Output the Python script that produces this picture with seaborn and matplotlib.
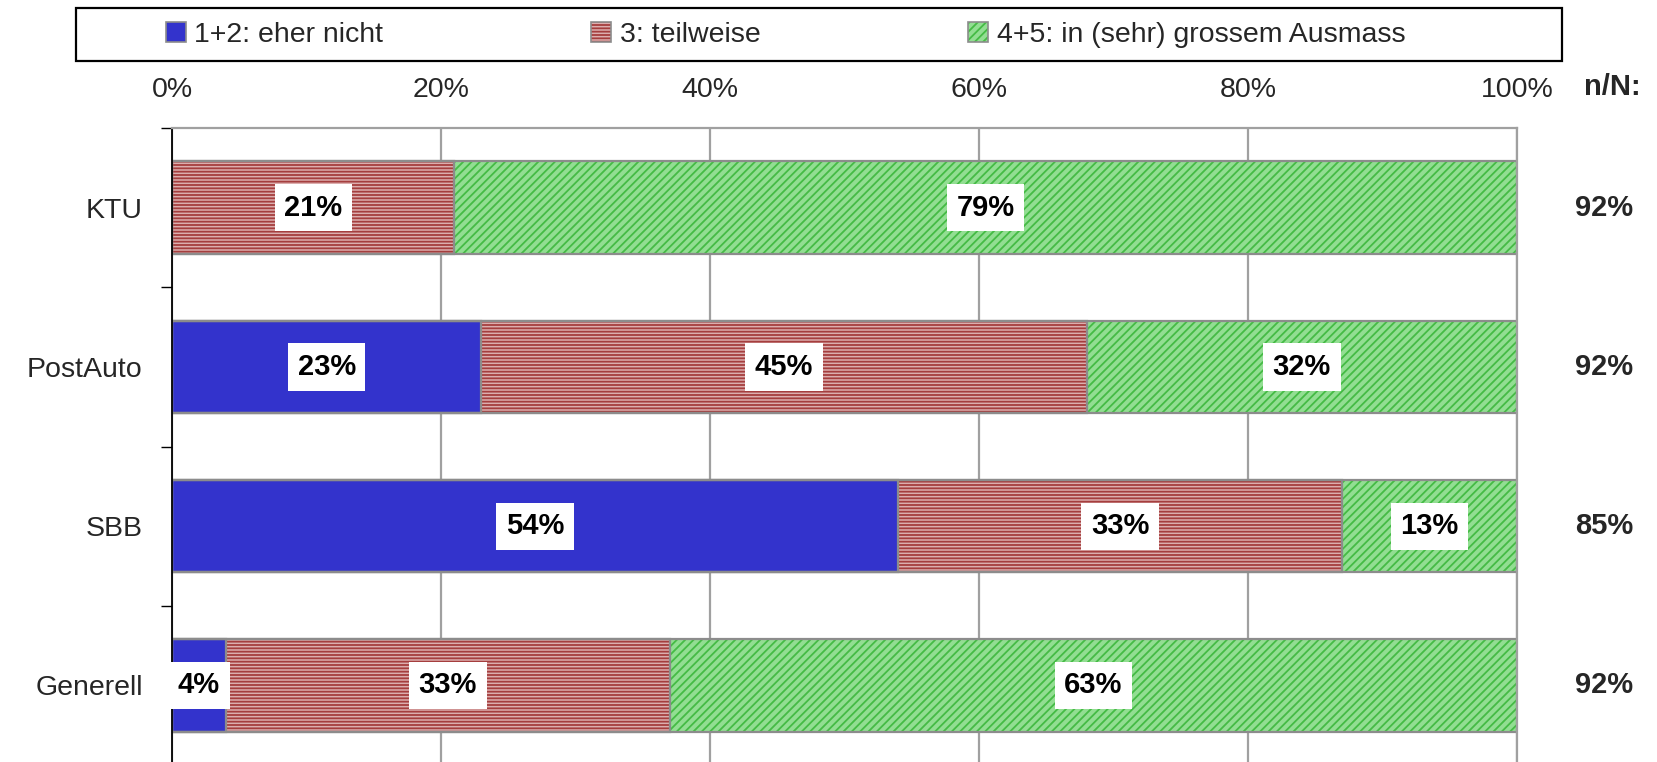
import numpy as np
import pandas as pd
import seaborn as sns
import matplotlib
matplotlib.use("Agg")
from matplotlib import pyplot as plt
from matplotlib.patches import Patch, Rectangle
from matplotlib.transforms import blended_transform_factory

categories = ["KTU", "PostAuto", "SBB", "Generell"]
eher_nicht = [0, 23, 54, 4]
teilweise = [21, 45, 33, 33]
gross = [79, 32, 13, 63]
n_over_N = ["92%", "92%", "85%", "92%"]
series_labels = ["1+2: eher nicht", "3: teilweise", "4+5: in (sehr) grossem Ausmass"]
x_ticks = [0, 20, 40, 60, 80, 100]

sns.set_style("white")
plt.rcParams["font.family"] = ["Liberation Sans", "DejaVu Sans"]
plt.rcParams["hatch.linewidth"] = 1.3

BLUE = "#3333cc"
RED_FACE, RED_HATCH = "#dcaeae", "#a53e3e"
GREEN_FACE, GREEN_HATCH = "#92de92", "#45bb45"
EDGE = "#8c8c8c"

W, H = 1657, 762
fig = plt.figure(figsize=(W / 100, H / 100), dpi=100)
ax = fig.add_axes([172 / W, 1 - 765 / H, 1345 / W, 637 / H])

df = pd.DataFrame({"cat": categories,
                   "blue_end": np.array(eher_nicht),
                   "red_end": np.array(eher_nicht) + np.array(teilweise),
                   "green_end": np.array(eher_nicht) + np.array(teilweise) + np.array(gross)})

# (column, face, hatch colour, hatch) - drawn from the longest to the shortest
layers = [("green_end", GREEN_FACE, GREEN_HATCH, "////"),
          ("red_end", RED_FACE, RED_HATCH, "-----"),
          ("blue_end", BLUE, BLUE, None)]

bar_h = 0.58
for col, face, hcol, hatch in layers:
    sns.barplot(data=df, x=col, y="cat", orient="h", color=face, saturation=1,
                errorbar=None, width=bar_h, hatch=hatch, edgecolor=hcol,
                linewidth=0, ax=ax)
for col, face, hcol, hatch in layers:
    sns.barplot(data=df, x=col, y="cat", orient="h", fill=False, errorbar=None,
                width=bar_h, edgecolor=EDGE, linewidth=1.6, ax=ax)

# value labels in white boxes
starts = [np.zeros(4), np.array(eher_nicht), np.array(eher_nicht) + np.array(teilweise)]
for vals, st in zip([eher_nicht, teilweise, gross], starts):
    for i, v in enumerate(vals):
        if v > 0:
            ax.text(st[i] + v / 2, i, f"{v}%", ha="center", va="center",
                    fontsize=21, fontweight="bold", color="black", zorder=5,
                    bbox=dict(boxstyle="square,pad=0.33", fc="white", ec="none"))

ax.set_xlim(0, 100)
ax.set_ylim(3.5, -0.5)
ax.set_xlabel("")
ax.set_ylabel("")
ax.xaxis.tick_top()
ax.set_xticks(x_ticks)
ax.set_xticklabels([f"{t}%" for t in x_ticks])
ax.tick_params(axis="x", length=0, pad=18, labelsize=20.5)
ax.set_yticks(range(len(categories)))
ax.set_yticklabels(categories)
ax.set_yticks(np.arange(-0.5, len(categories), 1), minor=True)
ax.tick_params(axis="y", which="major", length=0, pad=21, labelsize=20.5)
ax.tick_params(axis="y", which="minor", left=True, length=7.7, width=1, color="black")
ax.xaxis.grid(True, color="#a0a0a0", linewidth=1.6)
ax.set_axisbelow(True)

ax.spines["left"].set_color("black")
ax.spines["left"].set_linewidth(1.3)
for s in ["top", "right"]:
    ax.spines[s].set_color("#a0a0a0")
    ax.spines[s].set_linewidth(1.6)
ax.spines["bottom"].set_visible(False)

# n/N column
tr = blended_transform_factory(ax.transAxes, ax.transData)
for i, t in enumerate(n_over_N):
    ax.text(1.0647, i, t, transform=tr, ha="center", va="center",
            fontsize=21, fontweight="bold")
ax.text(1.0706, 1.064, "n/N:", transform=ax.transAxes, ha="center", va="center",
        fontsize=21, fontweight="bold")

# legend
handles = [
    (Patch(facecolor=BLUE, edgecolor=BLUE, linewidth=0),
     Patch(fill=False, edgecolor=EDGE, linewidth=1.2)),
    (Patch(facecolor=RED_FACE, edgecolor=RED_HATCH, hatch="-----", linewidth=0),
     Patch(fill=False, edgecolor=EDGE, linewidth=1.2)),
    (Patch(facecolor=GREEN_FACE, edgecolor=GREEN_HATCH, hatch="////", linewidth=0),
     Patch(fill=False, edgecolor=EDGE, linewidth=1.2)),
]
fig.legend(handles, series_labels, loc="center left",
           bbox_to_anchor=(166 / W, 1 - 34.5 / H), ncol=3, frameon=False,
           borderpad=0, borderaxespad=0, columnspacing=7.3, handlelength=0.7,
           handleheight=0.7, handletextpad=0.3, fontsize=20.5)
fig.patches.append(Rectangle((76 / W, 1 - 61 / H), 1486 / W, 53 / H,
                             transform=fig.transFigure, fill=False,
                             edgecolor="black", linewidth=1.6))

fig.savefig("out.png", dpi=100)
